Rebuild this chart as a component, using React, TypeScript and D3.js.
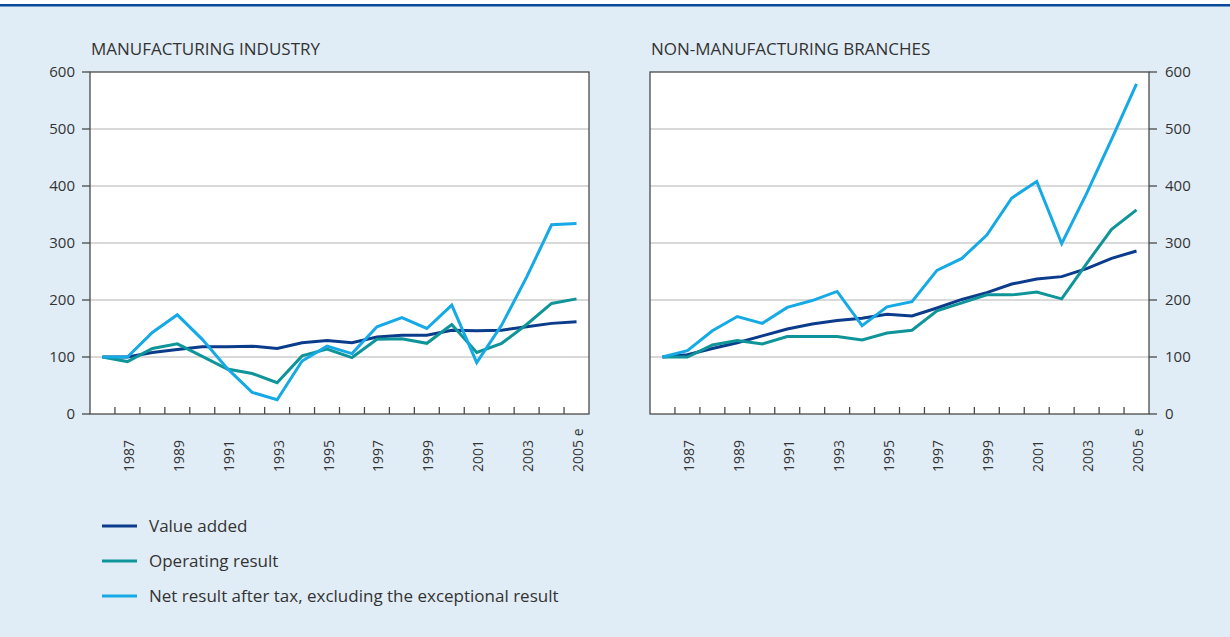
import React from "react";
import * as d3 from "d3";

const years = ["1986","1987","1988","1989","1990","1991","1992","1993","1994","1995","1996","1997","1998","1999","2000","2001","2002","2003","2004","2005"];
const yearLabels = ["", "1987", "", "1989", "", "1991", "", "1993", "", "1995", "", "1997", "", "1999", "", "2001", "", "2003", "", "2005 e"];
const yTicks = [0, 100, 200, 300, 400, 500, 600];

const manufValueAdded = [100, 100, 108, 113, 118, 118, 119, 115, 125, 129, 125, 135, 138, 138, 147, 146, 147, 153, 159, 162];
const manufOperating = [100, 92, 115, 123, 101, 79, 71, 55, 102, 114, 99, 131, 132, 124, 157, 108, 124, 157, 194, 202];
const manufNet = [100, 100, 143, 174, 131, 80, 38, 25, 93, 119, 106, 153, 169, 150, 191, 90, 156, 240, 332, 334];

const nonValueAdded = [100, 104, 115, 125, 137, 149, 158, 164, 168, 175, 172, 186, 201, 213, 228, 237, 241, 255, 273, 286];
const nonOperating = [100, 100, 121, 129, 123, 136, 136, 136, 130, 142, 147, 181, 195, 209, 209, 214, 202, 264, 324, 358];
const nonNet = [100, 111, 146, 171, 159, 187, 199, 215, 155, 188, 197, 252, 273, 314, 379, 408, 299, 387, 482, 579];

const seriesNames = ["Value added", "Operating result", "Net result after tax, excluding the exceptional result"];
const colors = ["#0B3C8C", "#0F9599", "#15A9E5"];

const FONT = "'Open Sans', 'Noto Sans', sans-serif";
const TEXT = "#333";
const AXIS = "#4a4a4a";

type PanelProps = {
  x0: number;
  x1: number;
  title: string;
  data: number[][];
  axisRight: boolean;
};

function Panel({ x0, x1, title, data, axisRight }: PanelProps) {
  const top = 72;
  const bottom = 414;
  const x = d3.scaleBand<string>().domain(years).range([x0, x1]).padding(0);
  const y = d3.scaleLinear().domain([0, 600]).range([bottom, top]);
  const line = d3
    .line<number>()
    .x((_, i) => (x(years[i]) as number) + x.bandwidth() / 2)
    .y((d) => y(d));
  const axisX = axisRight ? x1 : x0;
  return (
    <g>
      <text x={x0 + 1} y={55} fontFamily={FONT} fontSize={17} fill={TEXT}>
        {title}
      </text>
      <rect x={x0} y={top} width={x1 - x0} height={bottom - top} fill="#ffffff" />
      {yTicks.filter((t) => t > 0 && t < 600).map((t) => (
        <line key={t} x1={x0} x2={x1} y1={y(t)} y2={y(t)} stroke="#b4b4b4" strokeWidth={1.2} />
      ))}
      <rect x={x0} y={top} width={x1 - x0} height={bottom - top} fill="none" stroke={AXIS} strokeWidth={1.3} />
      {yTicks.map((t) => (
        <g key={t}>
          <line
            x1={axisRight ? axisX : axisX - 8}
            x2={axisRight ? axisX + 8 : axisX}
            y1={y(t)}
            y2={y(t)}
            stroke={AXIS}
            strokeWidth={1.3}
          />
          <text
            x={axisRight ? axisX + 16 : axisX - 15}
            y={y(t)}
            dy="0.35em"
            textAnchor={axisRight ? "start" : "end"}
            fontFamily={FONT}
            fontSize={15}
            fill={TEXT}
          >
            {t}
          </text>
        </g>
      ))}
      {years.slice(1).map((yr) => (
        <line key={yr} x1={x(yr) as number} x2={x(yr) as number} y1={bottom} y2={bottom - 7} stroke={AXIS} strokeWidth={1.3} />
      ))}
      {years.map((yr, i) =>
        yearLabels[i] ? (
          <text
            key={yr}
            transform={`translate(${(x(yr) as number) + x.bandwidth() / 2 + 6.5},472) rotate(-90)`}
            textAnchor="start"
            fontFamily={FONT}
            fontSize={14}
            fill={TEXT}
          >
            {yearLabels[i]}
          </text>
        ) : null
      )}
      {data.map((s, k) => (
        <path key={k} d={line(s) || ""} fill="none" stroke={colors[k]} strokeWidth={3} strokeLinejoin="miter" />
      ))}
    </g>
  );
}

export default function App() {
  const W = 1230;
  const H = 637;
  return (
    <svg width={W} height={H} style={{ position: "absolute", left: 0, top: 0, display: "block" }}>
      <rect x={0} y={0} width={W} height={H} fill="#E1EDF6" />
      <rect x={0} y={0} width={W} height={4} fill="#ffffff" />
      <rect x={0} y={4} width={W} height={2.5} fill="#0B4A9A" />
      <Panel x0={90} x1={589} title="MANUFACTURING INDUSTRY" data={[manufValueAdded, manufOperating, manufNet]} axisRight={false} />
      <Panel x0={650} x1={1149} title="NON-MANUFACTURING BRANCHES" data={[nonValueAdded, nonOperating, nonNet]} axisRight={true} />
      {seriesNames.map((n, i) => (
        <g key={n}>
          <line x1={102} x2={137} y1={526 + i * 35} y2={526 + i * 35} stroke={colors[i]} strokeWidth={3} />
          <text x={149} y={526 + i * 35} dy="0.35em" fontFamily={FONT} fontSize={17} fill={TEXT}>
            {n}
          </text>
        </g>
      ))}
    </svg>
  );
}
